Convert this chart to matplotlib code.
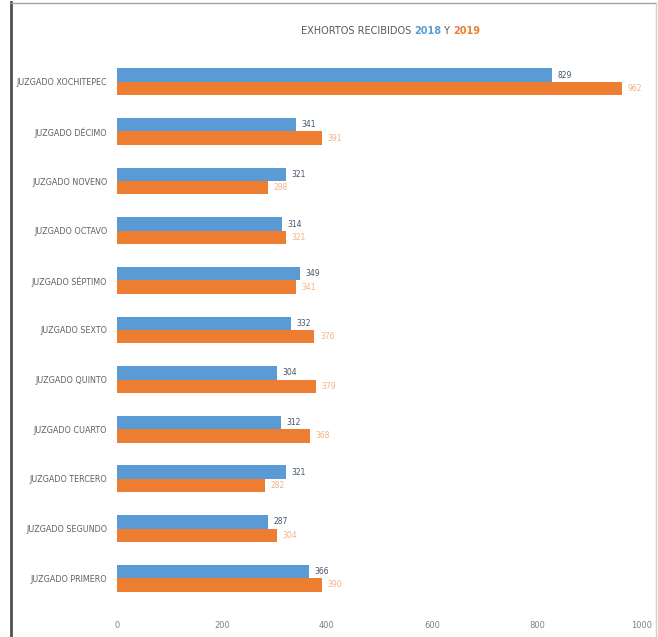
import matplotlib.pyplot as plt
from matplotlib.lines import Line2D
import numpy as np

juzgados = ["JUZGADO PRIMERO", "JUZGADO SEGUNDO", "JUZGADO TERCERO", "JUZGADO CUARTO",
            "JUZGADO QUINTO", "JUZGADO SEXTO", "JUZGADO SÉPTIMO", "JUZGADO OCTAVO",
            "JUZGADO NOVENO", "JUZGADO DÉCIMO", "JUZGADO XOCHITEPEC"]
exhortos_2018 = [366, 287, 321, 312, 304, 332, 349, 314, 321, 341, 829]
exhortos_2019 = [390, 304, 282, 368, 379, 376, 341, 321, 288, 391, 962]
ticks = [0, 200, 400, 600, 800, 1000]

blue = "#5B9BD5"
orange = "#ED7D31"

fig = plt.figure(figsize=(6.58, 6.37), dpi=100)
ax = fig.add_axes([0.1778, 0.0534, 0.7979, 0.8571])

y = np.arange(len(juzgados))
h = 0.27
ax.barh(y + h / 2, exhortos_2018, height=h, color=blue)
ax.barh(y - h / 2, exhortos_2019, height=h, color=orange)

for yi, v in zip(y, exhortos_2018):
    ax.annotate(str(v), (v, yi + h / 2), xytext=(4, 0), textcoords="offset points",
                va="center", ha="left", fontsize=5.5, color="#44546A")
for yi, v in zip(y, exhortos_2019):
    ax.annotate(str(v), (v, yi - h / 2), xytext=(4, 0), textcoords="offset points",
                va="center", ha="left", fontsize=5.5, color="#F4B183")

ax.set_xlim(0, 1000)
ax.set_ylim(-0.5, len(juzgados) - 0.5)
ax.set_xticks(ticks)
ax.set_xticklabels([str(t) for t in ticks])
ax.set_yticks(y)
ax.set_yticklabels(juzgados)
ax.tick_params(axis="x", length=0, pad=13, labelsize=6, labelcolor="#808080")
ax.tick_params(axis="y", length=0, pad=7, labelsize=5.8, labelcolor="#606060")
for s in ax.spines.values():
    s.set_visible(False)

# title in three colours
t1 = fig.text(0.457, 0.951, "EXHORTOS RECIBIDOS ", fontsize=7, color="#595959",
              ha="left", va="center")
t2 = fig.text(0, 0, "2018", fontsize=7, color=blue, fontweight="bold",
              ha="left", va="center")
t3 = fig.text(0, 0, " Y ", fontsize=7, color="#595959", ha="left", va="center")
t4 = fig.text(0, 0, "2019", fontsize=7, color=orange, fontweight="bold",
              ha="left", va="center")
fig.canvas.draw()
r = fig.canvas.get_renderer()
x = t1.get_window_extent(r).x1
for t in (t2, t3, t4):
    t.set_position((x / fig.bbox.width, 0.951))
    x = t.get_window_extent(r).x1

# outer frame
fig.add_artist(Line2D([0.016, 0.016], [0.0, 0.997], transform=fig.transFigure,
                      color="#505050", lw=2))
fig.add_artist(Line2D([0.016, 0.997], [0.996, 0.996], transform=fig.transFigure,
                      color="#a0a0a0", lw=1))
fig.add_artist(Line2D([0.997, 0.997], [0.0, 0.996], transform=fig.transFigure,
                      color="#d0d0d0", lw=1))

fig.savefig("out.png", dpi=100)
